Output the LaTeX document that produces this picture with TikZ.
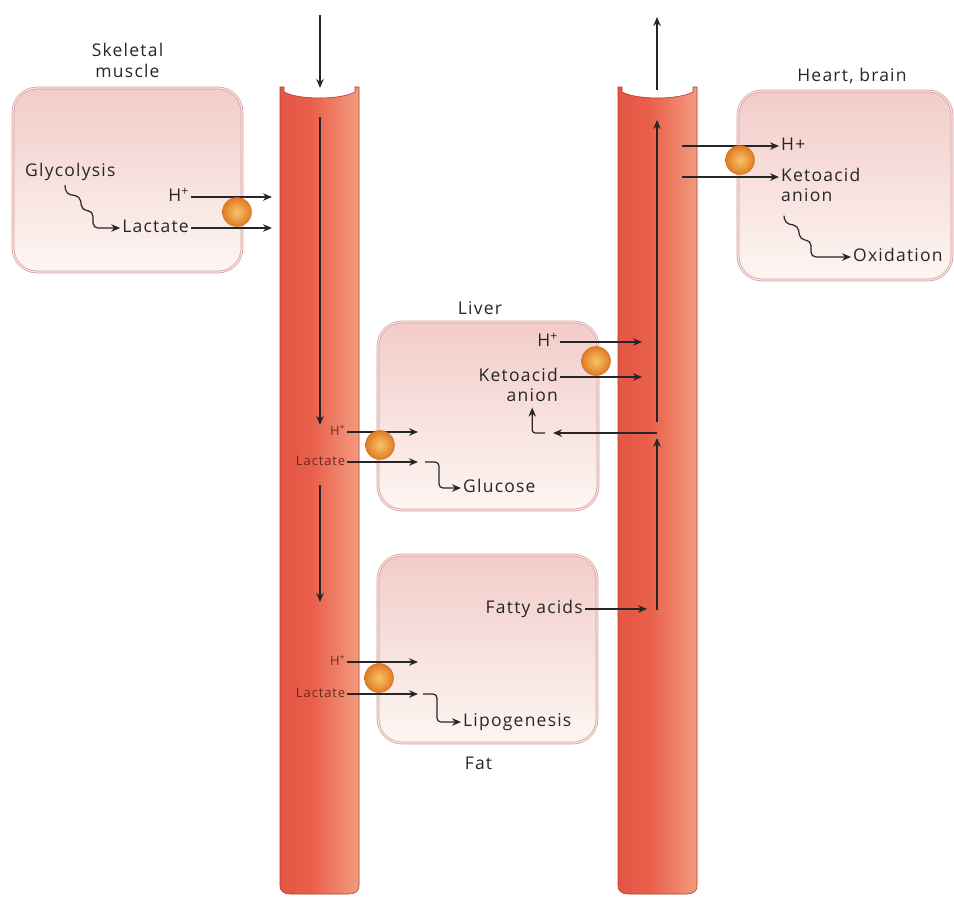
\documentclass[tikz,border=0pt]{standalone}
\usepackage{fontspec}
\setmainfont{Open Sans}[LetterSpace=7]
\usetikzlibrary{positioning, arrows.meta}

\definecolor{linegray}{HTML}{262626}
\definecolor{txt}{HTML}{262626}
\definecolor{vtxt}{HTML}{6E2A22}
\definecolor{boxtop}{HTML}{F2CCC9}
\definecolor{boxbot}{HTML}{FDF6F2}
\definecolor{boxline}{HTML}{D49C9F}
\definecolor{ballIn}{HTML}{F9C46A}
\definecolor{ballOut}{HTML}{E07B22}
\definecolor{ballrim}{HTML}{C46A25}
\definecolor{vesA}{HTML}{CF3F36}
\definecolor{vesB}{HTML}{E24B40}
\definecolor{vesC}{HTML}{E9604A}
\definecolor{vesD}{HTML}{F29B7F}
\definecolor{vesE}{HTML}{DB6654}
\definecolor{vesline}{HTML}{B23A30}

\pgfdeclarehorizontalshading{vesselshade}{100bp}{color(0bp)=(vesA); color(8bp)=(vesB); color(45bp)=(vesC); color(75bp)=(vesD); color(92bp)=(vesD); color(100bp)=(vesE)}

\tikzset{
  flow/.style={draw=linegray, line width=1.2pt, -{Stealth[length=9pt,width=7.5pt]}},
  wave/.style={flow, rounded corners=5pt},
  vessel/.style={shade, shading=vesselshade, draw=vesline, line width=0.6pt},
  cellbox/.style={rectangle, rounded corners=24pt, top color=boxtop, bottom color=boxbot,
    draw=boxline, double=boxtop!50!white, double distance=1.2pt, line width=0.7pt},
  lbl/.style={font=\fontsize{17.5}{21}\selectfont, text=txt, inner sep=2pt,
    text height=12.5pt, text depth=3.5pt},
  tissuelbl/.style={font=\fontsize{17.5}{21}\selectfont, text=txt, align=center},
  tiny/.style={font=\fontsize{13}{15}\selectfont, text=vtxt, inner sep=1.5pt,
    text height=9pt, text depth=2.5pt},
  ball/.style={circle, minimum size=29pt, inner sep=0pt, inner color=ballIn,
    outer color=ballOut, draw=ballrim, line width=0.4pt}
}

\begin{document}
\begin{tikzpicture}[x=1pt, y=-1pt]
\useasboundingbox (0,0) rectangle (954,898);

% blood vessels
\foreach \vx in {280,618}
  \path[vessel] (\vx,87) -- (\vx,886)
    .. controls (\vx,891) and (\vx+4,894) .. (\vx+10,894) -- (\vx+69,894)
    .. controls (\vx+75,894) and (\vx+79,891) .. (\vx+79,886) -- (\vx+79,87)
    -- (\vx+75,87) -- (\vx+75,92) .. controls (\vx+60,100) and (\vx+19,100) .. (\vx+4,92)
    -- (\vx+4,87) -- cycle;

% tissues
\node[cellbox, minimum width=229pt, minimum height=184pt] (muscle) at (127.5,180) {};
\node[cellbox, minimum width=214pt, minimum height=189pt] (heart) at (845,185.5) {};
\node[cellbox, minimum width=220pt, minimum height=188pt] (liver) at (488,416) {};
\node[cellbox, minimum width=219pt, minimum height=188pt] (fat) at (487.5,649) {};

\node[tissuelbl, above=6pt of muscle] (muscleCap) {Skeletal\\muscle};
\node[tissuelbl, above=3pt of heart, xshift=7pt] (heartCap) {Heart, brain};
\node[tissuelbl, above=3pt of liver, xshift=-8pt] (liverCap) {Liver};
\node[tissuelbl, below=10pt of fat, xshift=-9pt] (fatCap) {Fat};

% flow in the vessels
\coordinate (artIn) at (320,15);  \coordinate (artMouth) at (320,88);
\coordinate (artA) at (320,117);  \coordinate (artB) at (320,425);
\coordinate (artC) at (320,485);  \coordinate (artD) at (320,602);
\coordinate (venOut) at (657,17); \coordinate (venMouth) at (657,90);
\coordinate (venA) at (657,422);  \coordinate (venB) at (657,120);
\coordinate (venC) at (657,610);  \coordinate (venD) at (657,438);
\draw[flow] (artIn) -- (artMouth);
\draw[flow] (artA) -- (artB);
\draw[flow] (artC) -- (artD);
\draw[flow] (venMouth) -- (venOut);
\draw[flow] (venA) -- (venB);
\draw[flow] (venC) -- (venD);

% skeletal muscle
\node[lbl, anchor=west] (glyco) at (23,172) {Glycolysis};
\node[lbl, anchor=east] (muscleH) at (191,197) {H\textsuperscript{+}};
\node[lbl, anchor=east] (muscleLac) at (191,228) {Lactate};
\coordinate (artH) at (272,197);
\coordinate (artLac) at (272,228);
\draw[flow] (muscleH) -- (artH);
\draw[flow] (muscleLac) -- (artLac);
\draw[wave] ([xshift=42pt,yshift=-3pt]glyco.south west) -- ++(1,9) -- ++(14,2)
  -- ++(2,14) -- ++(11,1) |- (muscleLac);

% heart, brain
\node[lbl, anchor=west] (heartH) at (779,146) {H+};
\node[lbl, anchor=west] (heartKeto) at (779,177) {Ketoacid};
\node[lbl, anchor=north west] (heartAnion) at (heartKeto.south west) {anion};
\node[lbl, anchor=west] (oxid) at (851,257) {Oxidation};
\coordinate (venH) at (682,146);
\coordinate (venKeto) at (682,177);
\draw[flow] (venH) -- (heartH);
\draw[flow] (venKeto) -- (heartKeto);
\draw[wave] ([xshift=5pt,yshift=-8pt]heartAnion.south west) -- ++(1,8) -- ++(13,2)
  -- ++(2,14) -- ++(11,1) |- (oxid);

% liver
\node[lbl, anchor=east] (liverH) at (560,342) {H\textsuperscript{+}};
\node[lbl, anchor=east] (liverKeto) at (560,377) {Ketoacid};
\node[lbl, anchor=north east] (liverAnion) at (liverKeto.south east) {anion};
\coordinate (venLvH) at (642,342);
\coordinate (venLvKeto) at (642,377);
\draw[flow] (liverH) -- (venLvH);
\draw[flow] (liverKeto) -- (venLvKeto);
\coordinate (venBack) at (657,433);
\coordinate (liverBack) at (553,433);
\coordinate (liverHook) at (545,433);
\draw[flow] (venBack) -- (liverBack);
\draw[flow, rounded corners=3pt] (liverHook) -| (liverAnion);

\node[tiny, anchor=east] (liverInH) at (347,432) {H\textsuperscript{+}};
\node[tiny, anchor=east] (liverInLac) at (347,462) {Lactate};
\coordinate (liverHEnd) at (418,432);
\coordinate (liverLacEnd) at (418,462);
\draw[flow] (liverInH) -- (liverHEnd);
\draw[flow] (liverInLac) -- (liverLacEnd);
\node[lbl, anchor=west] (glucose) at (461,488) {Glucose};
\coordinate (liverStep) at (425,462);
\draw[flow, rounded corners=4pt] (liverStep) -- ++(14,0) |- (glucose);

% fat
\node[lbl, anchor=east] (fatty) at (585,609) {Fatty acids};
\coordinate (venFat) at (647,609);
\draw[flow] (fatty) -- (venFat);
\node[tiny, anchor=east] (fatInH) at (347,662) {H\textsuperscript{+}};
\node[tiny, anchor=east] (fatInLac) at (347,694) {Lactate};
\coordinate (fatHEnd) at (418,662);
\coordinate (fatLacEnd) at (418,694);
\draw[flow] (fatInH) -- (fatHEnd);
\draw[flow] (fatInLac) -- (fatLacEnd);
\node[lbl, anchor=west] (lipo) at (461,722) {Lipogenesis};
\coordinate (fatStep) at (423,694);
\draw[flow, rounded corners=4pt] (fatStep) -- ++(14,0) |- (lipo);

% transporters
\node[ball] (muscleBall) at (237,212) {};
\node[ball] (heartBall) at (740,160) {};
\node[ball] (liverBallOut) at (596,361) {};
\node[ball] (liverBallIn) at (380,445) {};
\node[ball] (fatBall) at (379,678) {};
\end{tikzpicture}
\end{document}
